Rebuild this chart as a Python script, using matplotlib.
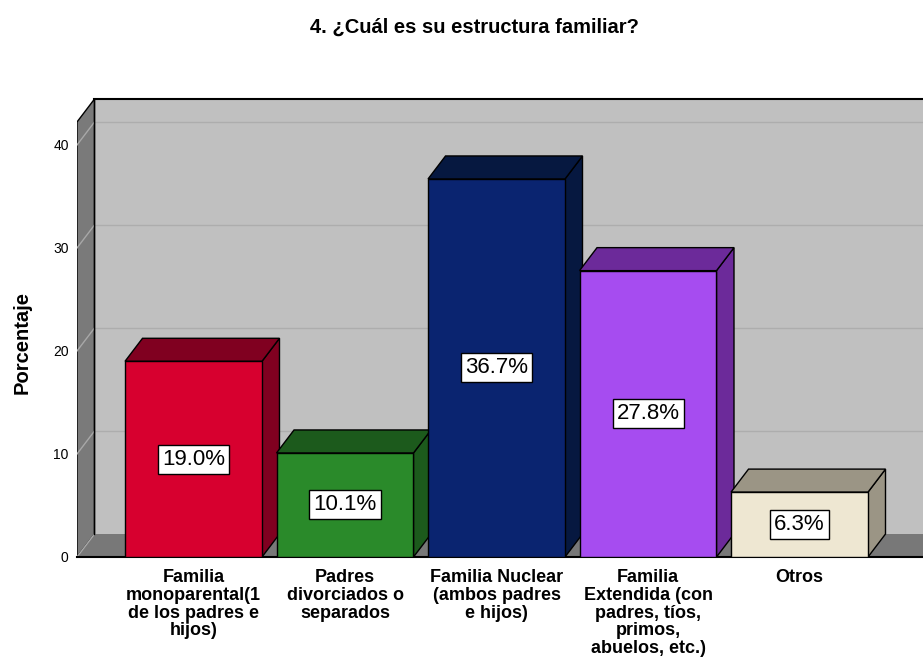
import numpy as np
import matplotlib
matplotlib.use("Agg")
import matplotlib.pyplot as plt
from matplotlib.patches import Polygon, Rectangle

plt.rcParams['font.family'] = ['Liberation Sans', 'DejaVu Sans']

# datos
categorias = ["Familia\nmonoparental(1\nde los padres e\nhijos)",
              "Padres\ndivorciados o\nseparados",
              "Familia Nuclear\n(ambos padres\ne hijos)",
              "Familia\nExtendida (con\npadres, tíos,\nprimos,\nabuelos, etc.)",
              "Otros"]
porcentajes = [19.0, 10.1, 36.7, 27.8, 6.3]
etiquetas = ["19.0%", "10.1%", "36.7%", "27.8%", "6.3%"]
yticks = [0, 10, 20, 30, 40]

frente = ['#D7002F', '#2A8A2A', '#0A2470', '#A64CF0', '#EEE7D2']
oscuro = ['#800020', '#1C5A1C', '#061840', '#6C2A9A', '#9B9585']

# geometria (unidades de datos)
x0, x1 = -0.769, 4.815
ytop = 44.56
dx, dy = 0.1155, 2.233
w = 0.904
ytop_front = 42.23

fig = plt.figure(figsize=(9.23, 6.57), dpi=100)
ax = fig.add_axes([77/923, 100/657, 846/923, 459/657])
ax.set_xlim(x0, x1)
ax.set_ylim(0, ytop)
for s in ax.spines.values():
    s.set_visible(False)

# pared del fondo
ax.add_patch(Rectangle((x0+dx, dy), x1-x0, ytop_front, facecolor='#C0C0C0', edgecolor='none', zorder=0))
for v in yticks[1:]:
    ax.plot([x0+dx, x1], [v+dy, v+dy], color='#ADADAD', lw=1, zorder=1)
# pared izquierda
ax.add_patch(Polygon([(x0, 0), (x0, ytop_front), (x0+dx, ytop_front+dy), (x0+dx, dy)],
                     closed=True, facecolor='#7A7A7A', edgecolor='black', lw=1, zorder=2))
for v in yticks:
    ax.plot([x0, x0+dx], [v, v+dy], color='#A8A8A8', lw=1, zorder=2.5)
# suelo
ax.add_patch(Polygon([(x0, 0), (x0+dx, dy), (x1+1, dy), (x1+1, 0)],
                     closed=True, facecolor='#787878', edgecolor='none', zorder=2))
ax.plot([x0, x1], [0, 0], color='black', lw=1.5, zorder=3, clip_on=False)
ax.plot([x0+dx, x1], [ytop_front+dy, ytop_front+dy], color='black', lw=1.5, zorder=3, clip_on=False)
ax.plot([x0+dx, x0+dx], [dy, ytop_front+dy], color='black', lw=1, zorder=3)

# barras 3D
pos = np.arange(len(porcentajes))
for i, (c, v) in enumerate(zip(pos, porcentajes)):
    l, r = c - w/2, c + w/2
    ax.add_patch(Polygon([(r, 0), (r+dx, dy), (r+dx, v+dy), (r, v)], closed=True,
                         facecolor=oscuro[i], edgecolor='black', lw=1, zorder=4))
    ax.add_patch(Polygon([(l, v), (l+dx, v+dy), (r+dx, v+dy), (r, v)], closed=True,
                         facecolor=oscuro[i], edgecolor='black', lw=1, zorder=4))
    ax.add_patch(Rectangle((l, 0), w, v, facecolor=frente[i], edgecolor='black', lw=1, zorder=5))
    ax.text(c, v/2, etiquetas[i], ha='center', va='center', fontsize=16, zorder=6,
            bbox=dict(boxstyle='square,pad=0.18', facecolor='white', edgecolor='black', lw=1))

ax.set_yticks(yticks)
ax.set_yticklabels([str(t) for t in yticks], fontsize=10)
ax.set_xticks(pos)
ax.set_xticklabels(categorias, fontsize=13, fontweight='bold', linespacing=1.05, va='top')
ax.tick_params(axis='y', length=0, pad=6)
ax.tick_params(axis='x', length=0, pad=9)

fig.text(474/923, 1-27/657, "4. ¿Cuál es su estructura familiar?", ha='center', va='center',
         fontsize=14.5, fontweight='bold')
fig.text(22/923, 1-342/657, "Porcentaje", ha='center', va='center', rotation=90,
         fontsize=14.5, fontweight='bold')

fig.savefig("out.png", dpi=100)
